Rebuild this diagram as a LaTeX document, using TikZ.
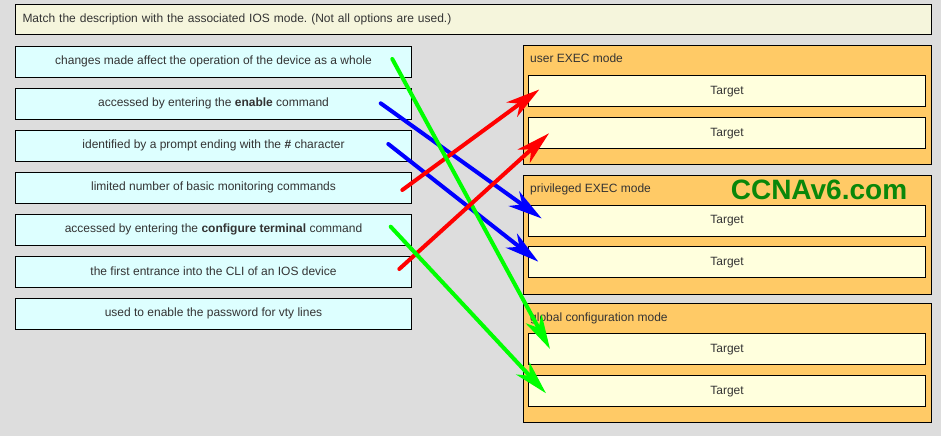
\documentclass[tikz,border=0pt]{standalone}
\usepackage{fontspec}
\setmainfont{Liberation Sans}
\usetikzlibrary{arrows.meta}
\definecolor{bg}{HTML}{DDDDDD}
\definecolor{hdr}{HTML}{F5F5DC}
\definecolor{opt}{HTML}{DDFFFF}
\definecolor{grp}{HTML}{FFCA66}
\definecolor{tgt}{HTML}{FFFFDD}
\definecolor{txt}{HTML}{333333}
\definecolor{wm}{HTML}{0A870A}
\definecolor{ared}{HTML}{FF0000}
\definecolor{ablue}{HTML}{0000FF}
\definecolor{agreen}{HTML}{00FF00}
\frenchspacing
\begin{document}
\begin{tikzpicture}[x=1pt,y=-1pt,
  base/.style={draw=black,line width=1pt,text=txt,font=\fontsize{12}{14}\selectfont,inner sep=0pt},
  hdrbox/.style={base,fill=hdr,anchor=north west,minimum height=30pt,text width=902pt,inner xsep=7pt,align=left},
  optbox/.style={base,fill=opt,anchor=north west,minimum width=396pt,minimum height=31pt},
  grpbox/.style={draw=black,line width=1pt,fill=grp,anchor=north west,minimum width=407.5pt,minimum height=119pt,inner sep=0pt},
  grplabel/.style={text=txt,font=\fontsize{12}{14}\selectfont,anchor=base west,inner sep=0pt},
  tgtbox/.style={base,fill=tgt,anchor=north west,minimum width=396.4pt,minimum height=31pt},
  conn/.style={line width=4pt,line cap=round,-{Stealth[length=34pt,width=18pt,inset=10pt]}}]
\fill[bg] (0,0) rectangle (941,436);
\useasboundingbox (0,0) rectangle (941,436);

\node[hdrbox] (hdr) at (15,4) {\raisebox{1pt}{Match the description with the associated IOS mode. (Not all options are used.)}};

\node[optbox] (o1) at (15,45.7) {\raisebox{1.5pt}{changes made affect the operation of the device as a whole}};
\node[optbox] (o2) at (15,87.7) {\raisebox{1.5pt}{accessed by entering the \textbf{enable} command}};
\node[optbox] (o3) at (15,129.7) {\raisebox{1.5pt}{identified by a prompt ending with the \textbf{\#} character}};
\node[optbox] (o4) at (15,171.7) {\raisebox{1.5pt}{limited number of basic monitoring commands}};
\node[optbox] (o5) at (15,213.7) {\raisebox{1.5pt}{accessed by entering the \textbf{configure terminal} command}};
\node[optbox] (o6) at (15,255.7) {\raisebox{1.5pt}{the first entrance into the CLI of an IOS device}};
\node[optbox] (o7) at (15,297.7) {\raisebox{1.5pt}{used to enable the password for vty lines}};

\node[grpbox] (g1) at (523,45.3) {};
\node[grplabel] (g1l) at (530,63) {user EXEC mode};
\node[tgtbox] (t11) at (528.3,75.3) {\raisebox{1pt}{Target}};
\node[tgtbox] (t12) at (528.3,117.3) {\raisebox{1pt}{Target}};

\node[grpbox] (g2) at (523,174.5) {};
\node[grplabel] (g2l) at (530,192.2) {privileged EXEC mode};
\node[tgtbox] (t21) at (528.3,204.5) {\raisebox{1pt}{Target}};
\node[tgtbox] (t22) at (528.3,246.3) {\raisebox{1pt}{Target}};

\node[grpbox] (g3) at (523,303.3) {};
\node[grplabel] (g3l) at (530,321) {global configuration mode};
\node[tgtbox] (t31) at (528.3,333.3) {\raisebox{1pt}{Target}};
\node[tgtbox] (t32) at (528.3,375.3) {\raisebox{1pt}{Target}};

\node[font=\fontsize{28}{30}\selectfont\bfseries,text=wm,inner sep=0pt] (wm) at (819,190) {CCNAv6.com};

\coordinate (s1) at (392.3,59);
\coordinate (e1) at (550,349);
\coordinate (s2) at (380.7,103.3);
\coordinate (e2) at (541.7,218.5);
\coordinate (s3) at (388.3,144);
\coordinate (e3) at (538.3,261.7);
\coordinate (s4) at (402.3,190);
\coordinate (e4) at (539.3,89.5);
\coordinate (s5) at (390.7,226.7);
\coordinate (e5) at (546,393.3);
\coordinate (s6) at (399.3,269);
\coordinate (e6) at (549,133.3);

\draw[conn,ablue] (s2) -- (e2);
\draw[conn,ablue] (s3) -- (e3);
\draw[conn,ared] (s4) -- (e4);
\draw[conn,agreen] (s1) -- (e1);
\draw[conn,ared] (s6) -- (e6);
\draw[conn,agreen] (s5) -- (e5);
\end{tikzpicture}
\end{document}
